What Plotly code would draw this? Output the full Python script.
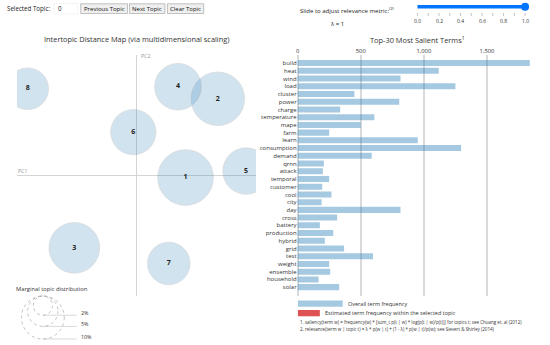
import plotly.graph_objects as go

# ---------------- data ----------------
topics = ["1", "2", "3", "4", "5", "6", "7", "8"]
pc1 = [0.123, 0.204, -0.156, 0.104, 0.275, -0.008, 0.081, -0.273]
pc2 = [-0.005, 0.191, -0.180, 0.221, 0.011, 0.108, -0.219, 0.216]
topic_share = [16.8, 15.5, 13.9, 11.8, 11.7, 11.1, 9.8, 9.4]   # % of tokens

guide_shares = [2, 5, 10]
guide_labels = ["2%", "5%", "10%"]

terms = ["build", "heat", "wind", "load", "cluster", "power", "charge", "temperature",
         "mape", "farm", "learn", "consumption", "demand", "qrnn", "attack", "temporal",
         "customer", "cool", "city", "day", "cross", "battery", "production", "hybrid",
         "grid", "test", "weight", "ensemble", "household", "solar"]
overall_freq = [1840, 1118, 815, 1250, 450, 805, 337, 608, 500, 250, 952, 1295, 587,
                208, 200, 250, 195, 268, 190, 815, 313, 176, 282, 216, 368, 597, 250,
                258, 166, 329]
freq_ticks = [0, 500, 1000, 1500]
lambda_ticks = [0.0, 0.1, 0.2, 0.3, 0.4, 0.5, 0.6, 0.7, 0.8, 0.9, 1.0]
lambda_value = 1.0

# ---------------- helpers ----------------
W, H = 550, 345
FONT = "Open Sans"
BLUE = "#1f77b4"


def X(p):
    return p / W


def Y(p):
    return 1 - p / H


R10 = 21.5  # px radius for a 10% topic


def radius(share):
    return R10 * (share / 10) ** 0.5


fig = go.Figure()

# ---------------- left panel: intertopic map ----------------
fig.add_trace(go.Scatter(
    x=pc1, y=pc2, mode="markers+text", text=topics,
    textposition="middle center",
    textfont=dict(family=FONT, size=7, color="#222", weight="bold"),
    marker=dict(size=[2 * radius(s) for s in topic_share], color=BLUE, opacity=0.2,
                line=dict(color="#333", width=0.6)),
    hoverinfo="skip", xaxis="x", yaxis="y"))

# ---------------- right panel: bars ----------------
fig.add_trace(go.Bar(
    x=overall_freq, y=terms, orientation="h", width=0.78,
    marker=dict(color="rgba(31,119,180,0.4)", line=dict(width=0)),
    hoverinfo="skip", xaxis="x2", yaxis="y2"))

map_top, map_bot = 55, 296

fig.update_layout(
    width=W, height=H, margin=dict(l=0, r=0, t=0, b=0),
    paper_bgcolor="white", plot_bgcolor="white", showlegend=False,
    font=dict(family=FONT, color="#333"),
    xaxis=dict(domain=[X(15), X(255)], range=[-0.3, 0.3], showgrid=False,
               zeroline=True, zerolinecolor="#d4d4d4", zerolinewidth=1,
               showticklabels=False, showline=False, fixedrange=True),
    yaxis=dict(domain=[Y(map_bot), Y(map_top)], range=[-0.3, 0.3], showgrid=False,
               zeroline=True, zerolinecolor="#d4d4d4", zerolinewidth=1,
               showticklabels=False, showline=False, fixedrange=True),
    xaxis2=dict(domain=[X(296.7), X(529.8)], range=[0, max(overall_freq)],
                anchor="y2", side="top", tickvals=freq_ticks, tickformat=",d",
                showgrid=True, gridcolor="#dadada", gridwidth=1.6,
                zeroline=True, zerolinecolor="#dadada", zerolinewidth=1.6,
                ticks="", tickfont=dict(size=5.8, color="#333"), showline=False),
    yaxis2=dict(domain=[Y(map_bot), Y(map_top)], anchor="x2", type="category",
                categoryorder="array", categoryarray=terms,
                tickmode="array", tickvals=terms, ticktext=terms,
                range=[len(terms) + 0.15, -1.05], showgrid=False, zeroline=False,
                ticks="", tickfont=dict(size=6, color="#333"), showline=False),
)

shapes = []
ann = []


def text(x, y, t, size=6.5, anchor="left", color="#333", yanchor="middle"):
    ann.append(dict(x=X(x), y=Y(y), xref="paper", yref="paper", text=t,
                    showarrow=False, xanchor=anchor, yanchor=yanchor,
                    font=dict(family=FONT, size=size, color=color)))


def rect(x0, y0, x1, y1, fill, line="rgba(0,0,0,0)", lw=0):
    shapes.append(dict(type="rect", xref="paper", yref="paper",
                       x0=X(x0), x1=X(x1), y0=Y(y1), y1=Y(y0),
                       fillcolor=fill, line=dict(color=line, width=lw)))


def seg(x0, y0, x1, y1, color, lw=1, dash="solid"):
    shapes.append(dict(type="line", xref="paper", yref="paper",
                       x0=X(x0), x1=X(x1), y0=Y(y0), y1=Y(y1),
                       line=dict(color=color, width=lw, dash=dash)))


# titles
text(135, 39, "Intertopic Distance Map (via multidimensional scaling)", 7.4, "center", "#333")
text(417, 39, "Top-30 Most Salient Terms<sup>1</sup>", 7.4, "center", "#333")
text(137.5, 56, "PC2", 5.2, "left", "#999")
text(14, 171, "PC1", 5.2, "left", "#999")

# marginal topic distribution guide
text(50, 289, "Marginal topic distribution", 5.8, "center", "#333")
cx, cx2 = 41, 75
for s, lab in zip(guide_shares, guide_labels):
    r = radius(s)
    shapes.append(dict(type="circle", xref="paper", yref="paper",
                       x0=X(cx - r), x1=X(cx + r), y0=Y(map_bot + 2 * r), y1=Y(map_bot),
                       line=dict(color="#999", width=0.6, dash="dot")))
    seg(cx, map_bot + 2 * r, cx2, map_bot + 2 * r, "rgba(128,128,128,0.3)", 1)
    text(cx2 + 2, map_bot + 2 * r - 2.5, lab, 5.3, "left", "#333")

# bar legend + notes
rect(297, 300.5, 342, 306.8, "rgba(31,119,180,0.4)")
text(345, 303.6, "Overall term frequency", 5.5)
rect(297, 310, 319, 316.3, "rgba(214,39,40,0.8)")
text(322, 313.2, "Estimated term frequency within the selected topic", 5.5)
text(297, 322.3, "1. saliency(term w) = frequency(w) * [sum_t p(t | w) * log(p(t | w)/p(t))] for topics t; see Chuang et. al (2012)", 4.5)
text(297, 329.3, "2. relevance(term w | topic t) = \u03bb * p(w | t) + (1 - \u03bb) * p(w | t)/p(w); see Sievert & Shirley (2014)", 4.5)

# top controls
text(3, 9, "Selected Topic:", 6.2, "left", "#222")
rect(52, 3.5, 76, 14, "white", "#ececec", 0.6)
text(54, 9, "0", 6.2, "left", "#222")
for x0, x1, lab in [(79, 126, "Previous Topic"), (128, 163.5, "Next Topic"), (166, 202.5, "Clear Topic")]:
    rect(x0, 3.8, x1, 13.5, "#efefef", "#a8a8a8", 0.7)
    text((x0 + x1) / 2, 8.8, lab, 6.0, "center", "#111")

# relevance slider
text(347, 10, "Slide to adjust relevance metric:<sup>(2)</sup>", 6.0, "center", "#222")
text(336, 23.5, "\u03bb = 1", 6.0, "center", "#222")
sx0, sx1, sy = 417, 525, 6.8
kx = sx0 + (sx1 - sx0) * lambda_value
seg(sx0, sy, kx, sy, "#0075ff", 3.5)
shapes.append(dict(type="circle", xref="paper", yref="paper",
                   x0=X(kx - 4), x1=X(kx + 4), y0=Y(sy + 4), y1=Y(sy - 4),
                   fillcolor="#0075ff", line=dict(color="#0075ff", width=0)))
for v in lambda_ticks:
    tx = sx0 + (sx1 - sx0) * v
    seg(tx, 13, tx, 16, "#9a9a9a", 0.6)
    if round(v * 10) % 2 == 0:
        text(tx, 21, f"{v:.1f}", 5.0, "center", "#333")

fig.update_layout(shapes=shapes, annotations=ann)
fig.write_html("out.html", config={"displayModeBar": False},
               post_script=["document.body.style.margin='0';"])
